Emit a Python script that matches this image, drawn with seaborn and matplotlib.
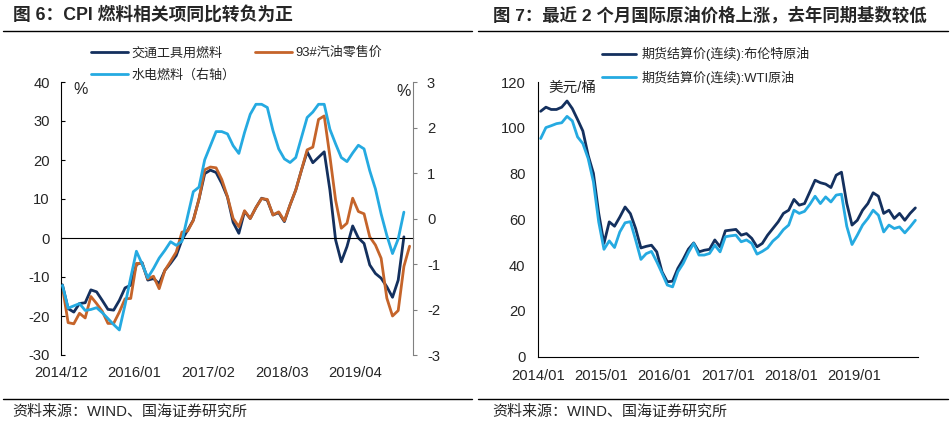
import numpy as np
import pandas as pd
import matplotlib
matplotlib.use('Agg')
import matplotlib.pyplot as plt
import seaborn as sns
from matplotlib.lines import Line2D

sns.set_style('white')
plt.rcParams['font.family'] = ['Liberation Sans', 'Noto Sans CJK SC']
plt.rcParams['axes.unicode_minus'] = False

# Fig 6: CPI fuel items, yoy %, monthly from 2014/12
fuel_transport = [-12.0, -18.1, -19.0, -16.8, -16.6, -13.3, -13.8, -16.0, -18.3, -18.5,
                  -16.0, -12.8, -12.1, -6.8, -6.3, -10.8, -10.4, -11.7, -8.3, -6.5,
                  -4.5, -0.5, 2.0, 4.6, 10.0, 16.5, 17.4, 16.8, 14.0, 10.5,
                  4.0, 1.2, 6.8, 5.0, 7.8, 10.2, 9.7, 5.9, 6.5, 4.2,
                  8.5, 12.3, 17.4, 22.1, 19.3, 20.7, 22.1, 12.3, -0.5, -6.1,
                  -2.2, 3.1, 0.0, -1.4, -6.9, -9.1, -10.3, -12.5, -15.2, -10.8,
                  0.3]
gasoline_93 = [-12.5, -21.7, -22.0, -19.3, -20.5, -15.0, -16.8, -18.8, -21.9, -21.9,
               -19.0, -15.6, -15.5, -6.5, -6.6, -10.5, -9.8, -13.0, -8.3, -6.0,
               -3.6, 1.5, 1.8, 4.5, 10.0, 17.5, 18.2, 18.0, 15.0, 10.6,
               5.0, 2.9, 7.0, 5.0, 7.8, 10.1, 9.9, 5.9, 6.7, 4.4,
               8.5, 12.3, 17.4, 22.6, 23.3, 30.4, 31.3, 20.9, 9.7, 2.5,
               3.8, 10.2, 6.8, 6.2, 0.3, -1.8, -5.2, -15.4, -20.0, -18.6,
               -7.3, -2.1]
utility_fuel = [-1.47, -1.97, -1.92, -1.87, -2.02, -2.0, -1.96, -2.07, -2.2, -2.33,
                -2.45, -1.9, -1.3, -0.72, -1.0, -1.3, -1.1, -0.87, -0.7, -0.51,
                -0.59, -0.5, 0.05, 0.59, 0.69, 1.29, 1.6, 1.91, 1.91, 1.86,
                1.6, 1.43, 1.89, 2.29, 2.51, 2.51, 2.44, 1.93, 1.53, 1.31,
                1.23, 1.34, 1.78, 2.22, 2.34, 2.51, 2.51, 1.96, 1.64, 1.34,
                1.25, 1.44, 1.61, 1.53, 1.05, 0.65, 0.10, -0.37, -0.77, -0.45,
                0.14]
cpi_ticklabels = ['2014/12', '2016/01', '2017/02', '2018/03', '2019/04']

# Fig 7: futures settlement price, USD/bbl, monthly 2014/01 - 2019/12
brent = [107.2, 109.0, 108.0, 108.0, 109.0, 111.7, 108.4, 103.6, 98.6, 88.0,
         80.1, 62.7, 49.5, 58.9, 57.0, 61.0, 65.4, 62.5, 56.0, 47.5,
         48.2, 48.7, 45.8, 37.1, 32.7, 33.0, 38.6, 42.5, 47.0, 49.7,
         45.8, 46.5, 46.9, 51.0, 48.0, 55.0, 55.3, 55.6, 53.1, 53.8,
         51.7, 48.0, 49.5, 53.1, 56.0, 58.9, 62.6, 64.0, 68.7, 66.2,
         66.9, 72.0, 77.1, 76.0, 75.4, 73.9, 79.3, 80.6, 67.0, 57.5,
         59.6, 64.0, 66.9, 71.6, 70.1, 62.6, 64.0, 60.4, 62.6, 59.6,
         62.6, 65.0]
wti = [95.3, 100.1, 100.9, 101.8, 102.2, 105.0, 103.0, 96.0, 93.1, 86.6,
       76.4, 58.9, 46.9, 50.6, 47.7, 54.5, 58.5, 59.0, 51.0, 42.5,
       45.0, 46.0, 41.5, 36.5, 31.3, 30.5, 37.1, 40.7, 45.5, 49.5,
       44.4, 44.4, 45.1, 48.7, 45.8, 52.4, 52.8, 53.1, 50.2, 51.0,
       49.5, 44.8, 46.0, 47.5, 50.5, 52.5, 55.5, 57.5, 64.0, 62.6,
       63.5, 66.5, 70.1, 66.9, 69.8, 67.6, 70.6, 71.0, 57.0, 49.0,
       53.1, 57.5, 60.4, 64.0, 61.8, 54.5, 57.5, 56.0, 56.7, 54.1,
       56.7, 59.6]
oil_ticklabels = ['2014/01', '2015/01', '2016/01', '2017/01', '2018/01', '2019/01', '']

NAVY = '#14305e'
ORANGE = '#c5642a'
SKY = '#25aae1'

cpi = pd.DataFrame({'m': np.arange(len(fuel_transport)),
                    'transport': fuel_transport,
                    'utility': utility_fuel})
gas = pd.DataFrame({'m': np.arange(len(gasoline_93)), 'gas': gasoline_93})
oil = pd.DataFrame({'m': np.arange(len(brent)) + 0.5, 'brent': brent, 'wti': wti})

fig = plt.figure(figsize=(9.51, 4.25), dpi=100)
W, H = 951, 425

# ---------- left chart ----------
ax1 = fig.add_axes([61 / W, 1 - 355 / H, 352 / W, 273 / H])
sns.lineplot(data=cpi, x='m', y='transport', ax=ax1, color=NAVY, lw=2, label='交通工具用燃料')
sns.lineplot(data=gas, x='m', y='gas', ax=ax1, color=ORANGE, lw=2, label='93#汽油零售价')
ax1b = ax1.twinx()
sns.lineplot(data=cpi, x='m', y='utility', ax=ax1b, color=SKY, lw=2, label='水电燃料（右轴）')

ax1.set_xlim(-0.25, 61.6)
ax1.set_ylim(-30, 40)
ax1.set_yticks(range(-30, 41, 10))
ax1b.set_ylim(-3, 3)
ax1b.set_yticks(range(-3, 4))
ax1.set_xticks(np.arange(5) * 12.93 - 0.25)
ax1.set_xticklabels(cpi_ticklabels)
for a in (ax1, ax1b):
    a.set_xlabel('')
    a.set_ylabel('')
ax1.spines['top'].set_visible(False)
ax1.spines['right'].set_visible(False)
ax1.spines['left'].set_color('black')
ax1.spines['bottom'].set_position(('data', 0))
ax1.spines['bottom'].set_color('black')
ax1.tick_params(axis='y', direction='in', length=3, pad=8, labelsize=10.6, color='black')
ax1.tick_params(axis='x', direction='in', length=3, pad=92, labelsize=10.6, color='black')
for s in ('top', 'left', 'bottom'):
    ax1b.spines[s].set_visible(False)
ax1b.spines['right'].set_color('#808080')
ax1b.tick_params(axis='y', direction='out', length=3, pad=7, labelsize=10.6, color='#808080')

h1, l1 = ax1.get_legend_handles_labels()
h2, l2 = ax1b.get_legend_handles_labels()
ax1.get_legend().remove()
ax1b.get_legend().remove()
fig.legend([h1[0], h2[0], h1[1]], [l1[0], l2[0], l1[1]], ncol=2, frameon=False,
           loc='upper left', bbox_to_anchor=(91 / W, 1 - 47 / H), borderaxespad=0,
           borderpad=0, fontsize=9.4, handlelength=2.8, handletextpad=0.3,
           columnspacing=1.5, labelspacing=0.75)

fig.text(73 / W, 1 - 89 / H, '%', fontsize=11.5, va='center')
fig.text(396 / W, 1 - 92 / H, '%', fontsize=11.5, va='center')

# ---------- right chart ----------
ax2 = fig.add_axes([538 / W, 1 - 356.7 / H, 380 / W, 274.7 / H])
sns.lineplot(data=oil, x='m', y='brent', ax=ax2, color=NAVY, lw=2, label='期货结算价(连续):布伦特原油')
sns.lineplot(data=oil, x='m', y='wti', ax=ax2, color=SKY, lw=2, label='期货结算价(连续):WTI原油')
ax2.set_xlim(0, 72)
ax2.set_ylim(0, 120)
ax2.set_yticks(range(0, 121, 20))
ax2.set_xticks(range(0, 73, 12))
ax2.set_xticklabels(oil_ticklabels)
ax2.set_xlabel('')
ax2.set_ylabel('')
ax2.spines['top'].set_visible(False)
ax2.spines['right'].set_visible(False)
ax2.spines['left'].set_color('black')
ax2.spines['bottom'].set_color('black')
ax2.tick_params(axis='x', direction='out', length=3, pad=6, labelsize=10.6, color='black')
ax2.tick_params(axis='y', length=0, pad=9, labelsize=10.6)
ax2.get_legend().remove()
h3, l3 = ax2.get_legend_handles_labels()
fig.legend(h3, l3, ncol=1, frameon=False, loc='upper left',
           bbox_to_anchor=(602 / W, 1 - 47 / H), borderaxespad=0, borderpad=0,
           fontsize=9.4, handlelength=2.6, handletextpad=0.45, labelspacing=0.75)
fig.text(548 / W, 1 - 88 / H, '美元/桶', fontsize=10.5, va='center')

# ---------- titles, rules, sources ----------
fig.text(13 / W, 1 - 15 / H, '图 6：CPI 燃料相关项同比转负为正', fontsize=12.8,
         fontweight='bold', va='center')
fig.text(493 / W, 1 - 15 / H, '图 7：最近 2 个月国际原油价格上涨，去年同期基数较低', fontsize=12.5,
         fontweight='bold', va='center')
for x0, x1 in ((3, 472), (478, 948)):
    fig.add_artist(Line2D([x0 / W, x1 / W], [1 - 30.5 / H] * 2, color='black', lw=1))
    fig.add_artist(Line2D([x0 / W, x1 / W], [1 - 399 / H] * 2, color='black', lw=1))
fig.text(12 / W, 1 - 412 / H, '资料来源：WIND、国海证券研究所', fontsize=10.8, va='center')
fig.text(492 / W, 1 - 412 / H, '资料来源：WIND、国海证券研究所', fontsize=10.8, va='center')

fig.savefig('out.png', dpi=100)
